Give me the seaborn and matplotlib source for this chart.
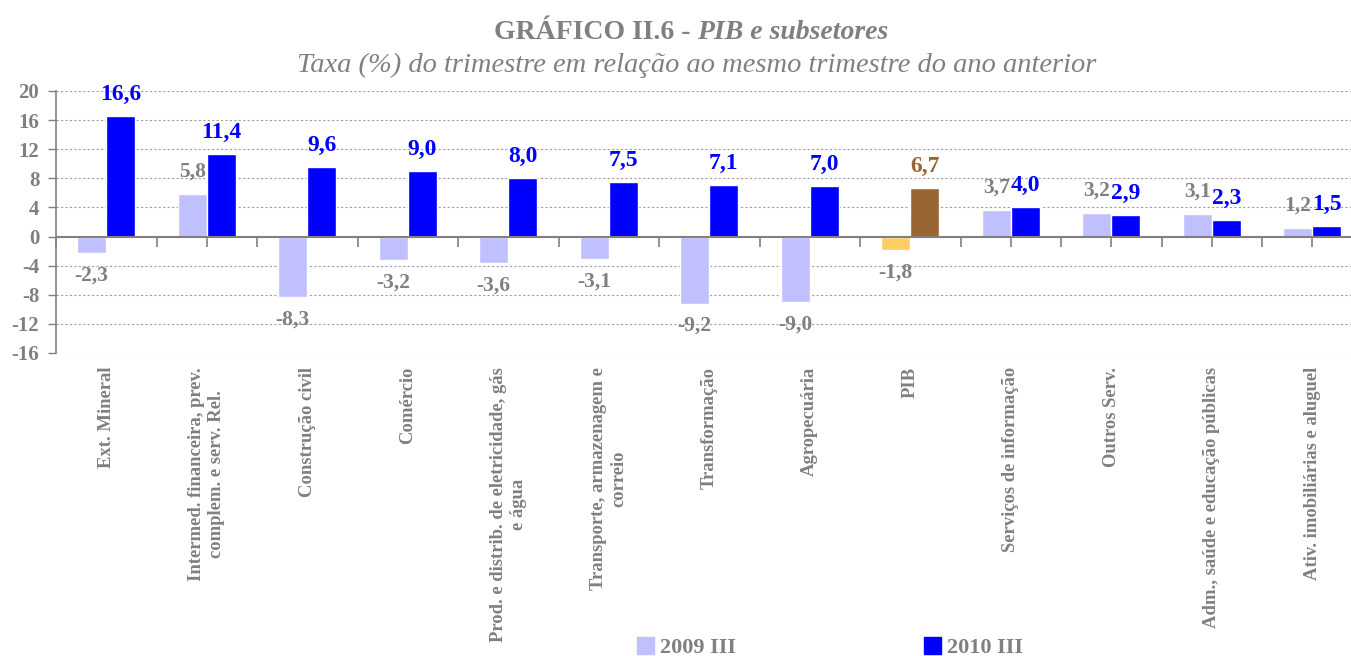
import matplotlib
matplotlib.use("Agg")
import matplotlib.pyplot as plt
import matplotlib.patches as mpatches
import seaborn as sns
import pandas as pd
import numpy as np

# data
categories = [
    "Ext. Mineral",
    "Intermed. financeira, prev.\ncomplem. e serv. Rel.",
    "Construção civil",
    "Comércio",
    "Prod. e distrib. de eletricidade, gás\ne água",
    "Transporte, armazenagem e\ncorreio",
    "Transformação",
    "Agropecuária",
    "PIB",
    "Serviços de informação",
    "Outros Serv.",
    "Adm., saúde e educação públicas",
    "Ativ. imobiliárias e aluguel",
]
series_names = ["2009 III", "2010 III"]
values_2009 = [-2.3, 5.8, -8.3, -3.2, -3.6, -3.1, -9.2, -9.0, -1.8, 3.7, 3.2, 3.1, 1.2]
values_2010 = [16.6, 11.4, 9.6, 9.0, 8.0, 7.5, 7.1, 7.0, 6.7, 4.0, 2.9, 2.3, 1.5]
yticks = [20, 16, 12, 8, 4, 0, -4, -8, -12, -16]

GRAY = "#808080"
C2009 = "#C0C0FF"
C2010 = "#0000FF"
PIB_2009 = "#FFCC66"
PIB_2010 = "#996633"

df = pd.DataFrame({
    "setor": categories * 2,
    "serie": [series_names[0]] * len(categories) + [series_names[1]] * len(categories),
    "taxa": values_2009 + values_2010,
})

sns.set_style("white")
plt.rcParams["font.family"] = ["Liberation Serif", "DejaVu Serif"]
plt.rcParams["font.weight"] = "bold"

fig = plt.figure(figsize=(13.51, 6.56), dpi=100)
ax = fig.add_axes([56 / 1351, 303 / 656, 1306.5 / 1351, 262 / 656])

sns.barplot(data=df, x="setor", y="taxa", hue="serie", order=categories,
            hue_order=series_names, palette=[C2009, C2010], width=0.58,
            dodge=True, legend=False, ax=ax, saturation=1)

# PIB highlighted
pib = categories.index("PIB")
ax.containers[0][pib].set_facecolor(PIB_2009)
ax.containers[1][pib].set_facecolor(PIB_2010)


def fmt(v):
    return f"{v:.1f}".replace(".", ",")


ax.bar_label(ax.containers[0], labels=[fmt(v) for v in values_2009],
             padding=9, color=GRAY, fontsize=15.5, fontweight="bold")
t10 = ax.bar_label(ax.containers[1], labels=[fmt(v) for v in values_2010],
                   padding=8, color=C2010, fontsize=17, fontweight="bold")
t10[pib].set_color(PIB_2010)

# axes
ax.set_xlim(-0.5, len(categories) - 0.5)
ax.set_ylim(-16, 20)
ax.set_yticks(yticks)
ax.set_yticklabels([str(t) for t in yticks], color=GRAY, fontsize=15, fontweight="bold")
ax.yaxis.grid(True, linestyle=(0, (2, 2)), color="#A0A0A0", linewidth=0.8)
ax.set_axisbelow(True)
ax.tick_params(axis="y", direction="out", length=6, color=GRAY, width=1, left=True, pad=6)
ax.axhline(0, color=GRAY, linewidth=1.5, zorder=1.5)

ax.set_xlabel("")
ax.set_ylabel("")
ax.set_xticks(range(len(categories)))
ax.set_xticklabels(categories, rotation=90, ha="center", va="top", multialignment="center",
                   color=GRAY, fontsize=13.4, fontweight="bold")
ax.tick_params(axis="x", length=0, pad=10)

for side in ["top", "right", "bottom"]:
    ax.spines[side].set_visible(False)
ax.spines["left"].set_color(GRAY)
ax.spines["left"].set_linewidth(1.2)

# tick marks along the zero line
sec = ax.secondary_xaxis(16 / 36)
sec.set_xticks(np.arange(-0.5, len(categories), 0.5))
sec.set_xticklabels([])
sec.tick_params(direction="out", length=7, color=GRAY, width=1.2)
sec.spines["bottom"].set_visible(False)

# titles
t1 = fig.text(697 / 1351, 1 - 39 / 656, "GRÁFICO II.6 - ", ha="right", va="baseline",
              color=GRAY, fontsize=20, fontweight="bold")
ax.annotate("PIB e subsetores", xy=(1, 0), xycoords=t1, ha="left", va="bottom",
            color=GRAY, fontsize=20, fontweight="bold", fontstyle="italic",
            annotation_clip=False)
fig.text(697 / 1351, 1 - 72 / 656,
         "Taxa (%) do trimestre em relação ao mesmo trimestre do ano anterior",
         ha="center", va="baseline", color=GRAY, fontsize=20.5, fontweight="normal",
         fontstyle="italic")

# legend
handles = [mpatches.Patch(color=C2009, label=series_names[0]),
           mpatches.Patch(color=C2010, label=series_names[1])]
fig.legend(handles=handles, loc="lower center", bbox_to_anchor=(0.6145, -0.034), ncol=2,
           frameon=False, handlelength=0.75, handleheight=0.75, handletextpad=0.3,
           columnspacing=8.45, prop={"size": 16, "weight": "bold"}, labelcolor=GRAY)

fig.savefig("out.png", dpi=100)
